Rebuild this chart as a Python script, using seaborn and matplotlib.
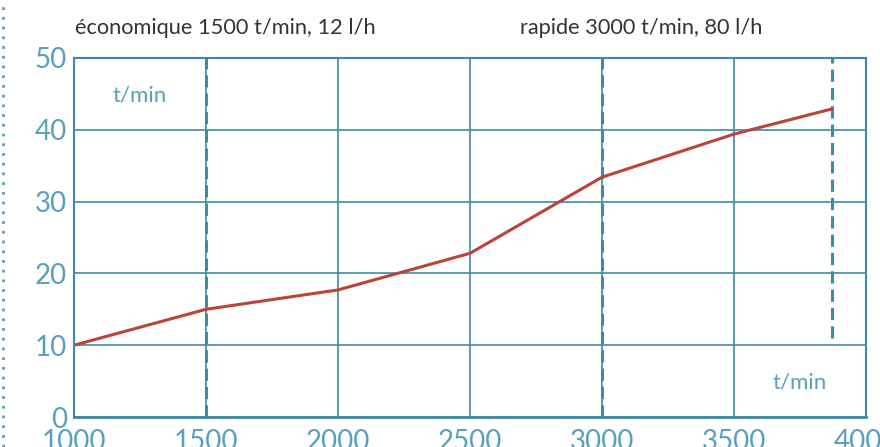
import matplotlib
matplotlib.use("Agg")
import matplotlib.pyplot as plt
import seaborn as sns
import pandas as pd
from matplotlib.lines import Line2D

sns.set_style("white")
plt.rcParams['font.family'] = ['Lato', 'DejaVu Sans']

# data
regime = [1000, 1500, 2000, 2500, 3000, 3500, 3870]
valeur = [10, 15.0, 17.7, 22.8, 33.4, 39.4, 42.9]
marques = [1500, 3000]
x_ticks = [1000, 1500, 2000, 2500, 3000, 3500, 4000]
y_ticks = [0, 10, 20, 30, 40, 50]
fin_courbe = 3870

grid_col = '#3f8aa6'
tick_col = '#5a9fbb'
red = '#b8443a'

df = pd.DataFrame({'regime': regime, 'valeur': valeur})

fig = plt.figure(figsize=(8.8, 4.47), dpi=100)
ax = fig.add_axes([74 / 880, 1 - 417 / 447, 792 / 880, 359 / 447])

ax.set_xlim(1000, 4000)
ax.set_ylim(0, 50)
ax.set_xticks(x_ticks)
ax.set_yticks(y_ticks)
ax.grid(True, color=grid_col, linewidth=1.2)
ax.set_axisbelow(True)

# dashed markers
for m in marques:
    ax.axvline(m, color=grid_col, linewidth=2.2, linestyle=(0, (4, 2)))
ax.plot([fin_courbe, fin_courbe], [11, 50], color=grid_col, linewidth=2.2,
        linestyle=(0, (4, 2)))

sns.lineplot(data=df, x='regime', y='valeur', color=red, linewidth=2.2, ax=ax)

for s in ax.spines.values():
    s.set_color(grid_col)
    s.set_linewidth(1.5)
ax.spines['bottom'].set_linewidth(2)

ax.tick_params(axis='y', length=0, colors=tick_col, labelsize=20, pad=5)
ax.tick_params(axis='x', length=0, colors=tick_col, labelsize=20, pad=9)
ax.set_xlabel('')
ax.set_ylabel('')

ax.text(1250, 44.8, 't/min', color=tick_col, fontsize=16,
        ha='center', va='center')
ax.text(3750, 4.8, 't/min', color=tick_col, fontsize=16,
        ha='center', va='center')

fig.text(75 / 880, 1 - 28 / 447, 'économique 1500 t/min, 12 l/h', color='#333333',
         fontsize=15.7, ha='left', va='center')
fig.text(520 / 880, 1 - 28 / 447, 'rapide 3000 t/min, 80 l/h', color='#333333',
         fontsize=15.7, ha='left', va='center')

# dotted border at left
fig.add_artist(Line2D([3 / 880, 3 / 880], [0, 1], transform=fig.transFigure,
                      color=tick_col, linewidth=2, linestyle=(0, (1, 2.5))))

fig.savefig('out.png', dpi=100)
